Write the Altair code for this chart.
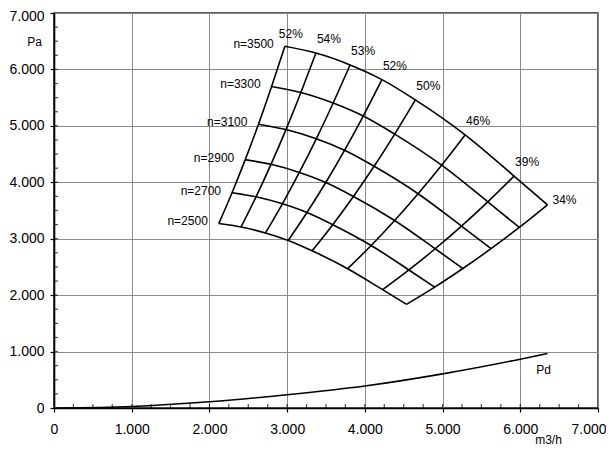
import altair as alt
import pandas as pd

FONT = "Liberation Sans"

# fan speeds (rpm) and efficiency labels
speeds = [2500, 2700, 2900, 3100, 3300, 3500]
eff_labels = ["52%", "54%", "53%", "52%", "50%", "46%", "39%", "34%"]

# flow (m3/h) and pressure (Pa) at the efficiency-line crossings of each speed curve
q_2500 = [2121, 2407, 2721, 3014, 3321, 3779, 4229, 4536]
p_2500 = [3270, 3209, 3102, 2969, 2786, 2469, 2097, 1837]
q_2700 = [2291, 2600, 2939, 3255, 3587, 4081, 4567, 4899]
p_2700 = [3815, 3743, 3618, 3464, 3249, 2880, 2446, 2142]
q_2900 = [2461, 2792, 3157, 3497, 3853, 4383, 4905, 5261]
p_2900 = [4401, 4318, 4174, 3996, 3749, 3323, 2822, 2472]
q_3100 = [2631, 2985, 3375, 3738, 4119, 4685, 5243, 5624]
p_3100 = [5029, 4934, 4770, 4566, 4283, 3797, 3224, 2824]
q_3300 = [2800, 3177, 3592, 3979, 4384, 4988, 5582, 5987]
p_3300 = [5698, 5592, 5405, 5174, 4854, 4303, 3654, 3200]
q_3500 = [2970, 3370, 3810, 4220, 4650, 5290, 5920, 6350]
p_3500 = [6410, 6290, 6080, 5820, 5460, 4840, 4110, 3600]

# dynamic pressure curve Pd
pd_q = [0, 1000, 2000, 3000, 4000, 5000, 6000, 6350]
pd_p = [0, 27, 110, 235, 390, 605, 865, 965]
pd_label = ["Pd"]

# axis tick values
major_ticks = [0, 1000, 2000, 3000, 4000, 5000, 6000, 7000]
minor_ticks = [250, 500, 750, 1000, 1250, 1500, 1750, 2000, 2250, 2500, 2750,
               3000, 3250, 3500, 3750, 4000, 4250, 4500, 4750, 5000, 5250,
               5500, 5750, 6000, 6250, 6500, 6750]

Q = [q_2500, q_2700, q_2900, q_3100, q_3300, q_3500]
P = [p_2500, p_2700, p_2900, p_3100, p_3300, p_3500]
rows = []
for s, qs, ps in zip(speeds, Q, P):
    for j, (q, p) in enumerate(zip(qs, ps)):
        rows.append({"speed": s, "eff": j, "label": eff_labels[j],
                     "nlabel": f"n={s}", "q": q, "p": p})
grid_df = pd.DataFrame(rows)
pd_df = pd.DataFrame({"q": pd_q, "p": pd_p, "i": list(range(len(pd_q)))})
pd_lab_df = pd.DataFrame({"q": [pd_q[-1]], "p": [pd_p[-1]], "t": pd_label})
xt_df = pd.DataFrame({"q": minor_ticks, "p": [0] * len(minor_ticks)})
yt_df = pd.DataFrame({"q": [0] * len(minor_ticks), "p": minor_ticks})

lab_expr = "replace(format(datum.value, ','), ',', '.')"
x_scale = alt.Scale(domain=[0, 7000], nice=False, zero=True)
y_scale = alt.Scale(domain=[0, 7000], nice=False, zero=True)

x_axis = alt.Axis(
    values=major_ticks, labelExpr=lab_expr, title="m3/h",
    labelFlush=False,
    labelAlign={"condition": {"test": "datum.value >= 7000", "value": "right"}, "value": "center"},
    labelOffset={"condition": {"test": "datum.value >= 7000", "value": 8}, "value": 0},
    labelFont=FONT, labelFontSize=14, labelColor="black", labelPadding=10,
    tickSize=4, tickColor="black", tickWidth=1.2,
    domainColor="black", domainWidth=1.6,
    grid=True, gridColor="#8a8a8a", gridWidth=1,
    titleFont=FONT, titleFontSize=12, titleFontWeight="normal", titleColor="black",
    titleX=494, titleY=31, titleAlign="center", titleBaseline="middle",
)
y_axis = alt.Axis(
    values=major_ticks, labelExpr=lab_expr, title="Pa",
    labelFlush=False,
    labelOffset={"condition": {"test": "datum.value >= 7000", "value": 3}, "value": 0},
    labelFont=FONT, labelFontSize=14, labelColor="black", labelPadding=6,
    tickSize=4, tickColor="black", tickWidth=1.2,
    domainColor="black", domainWidth=1.6,
    grid=True, gridColor="#8a8a8a", gridWidth=1,
    titleFont=FONT, titleFontSize=12, titleFontWeight="normal", titleColor="black",
    titleAngle=0, titleX=-20, titleY=28, titleAlign="center", titleBaseline="middle",
)


def X(f="q"):
    return alt.X(f"{f}:Q", scale=x_scale, axis=x_axis)


def Y(f="p"):
    return alt.Y(f"{f}:Q", scale=y_scale, axis=y_axis)


base = alt.Chart(grid_df)
speed_lines = base.mark_line(interpolate="monotone", color="black", strokeWidth=1.6).encode(
    x=X(), y=Y(), detail="speed:N", order="eff:Q")
eff_lines = base.mark_line(interpolate="monotone", color="black", strokeWidth=1.6).encode(
    x=X(), y=Y(), detail="eff:N", order="speed:Q")
n_text = base.transform_filter("datum.eff == 0").mark_text(
    align="right", baseline="middle", dx=-11, dy=-2, font=FONT, fontSize=12, color="black"
).encode(x=X(), y=Y(), text="nlabel:N")
top = base.transform_filter("datum.speed == 3500")
pct_mid = top.transform_filter("datum.eff > 0 && datum.eff < 7").mark_text(
    align="center", baseline="middle", dx=13, dy=-14, font=FONT, fontSize=12, color="black"
).encode(x=X(), y=Y(), text="label:N")
pct_first = top.transform_filter("datum.eff == 0").mark_text(
    align="center", baseline="middle", dx=6, dy=-12, font=FONT, fontSize=12, color="black"
).encode(x=X(), y=Y(), text="label:N")
pct_last = top.transform_filter("datum.eff == 7").mark_text(
    align="left", baseline="middle", dx=5, dy=-5, font=FONT, fontSize=12, color="black"
).encode(x=X(), y=Y(), text="label:N")

pd_line = alt.Chart(pd_df).mark_line(interpolate="monotone", color="black", strokeWidth=1.6).encode(
    x=X(), y=Y(), order="i:Q")
pd_text = alt.Chart(pd_lab_df).mark_text(
    align="center", baseline="middle", dx=-4, dy=16, font=FONT, fontSize=12, color="black"
).encode(x=X(), y=Y(), text="t:N")

x_minor = alt.Chart(xt_df).mark_tick(orient="vertical", size=4, thickness=1.2, yOffset=-2, color="black").encode(
    x=X(), y=Y())
y_minor = alt.Chart(yt_df).mark_tick(orient="horizontal", size=4, thickness=1.2, xOffset=2, color="black").encode(
    x=X(), y=Y())

chart = alt.layer(
    speed_lines, eff_lines, pd_line, x_minor, y_minor,
    n_text, pct_mid, pct_first, pct_last, pd_text
).properties(
    width=544, height=395, autosize="none",
    padding={"left": 46, "top": 5, "right": 8, "bottom": 38},
    background="white",
).configure_view(stroke="#222222", strokeWidth=1.5)

chart.save("out.html", embed_options={"renderer": "svg", "actions": False})
